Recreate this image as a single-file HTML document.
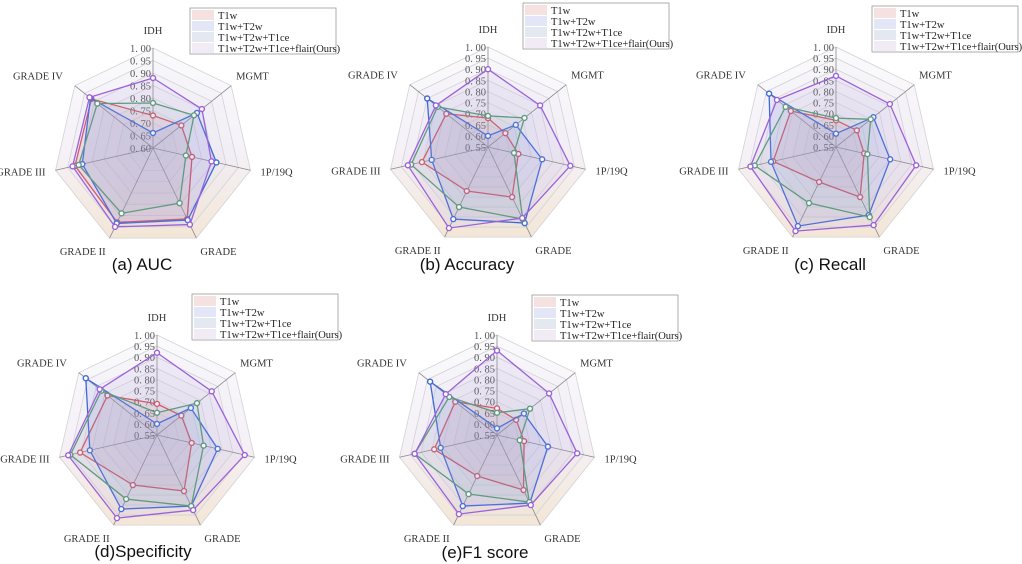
<!DOCTYPE html>
<html><head><meta charset="utf-8"><style>
html,body{margin:0;padding:0;background:#fff;width:1022px;height:564px;overflow:hidden}
svg{display:block}
</style></head><body>
<svg id="root" width="1022" height="564" viewBox="0 0 1022 564"></svg>
<script>
const categories = ["IDH","MGMT","1P/19Q","GRADE","GRADE II","GRADE III","GRADE IV"];
const seriesNames = ["T1w","T1w+T2w","T1w+T2w+T1ce","T1w+T2w+T1ce+flair(Ours)"];
// (a) AUC
const aucT1w   = [0.73,0.745,0.76,0.915,0.93,0.92,0.915];
const aucT2w   = [0.66,0.825,0.86,0.92,0.935,0.89,0.92];
const aucT1ce  = [0.78,0.81,0.735,0.845,0.89,0.905,0.885];
const aucOurs  = [0.88,0.85,0.84,0.94,0.95,0.93,0.925];
const aucTicks = ["0.60","0.65","0.70","0.75","0.80","0.85","0.90","0.95","1.00"];
// (b) Accuracy
const accT1w   = [0.68,0.65,0.69,0.80,0.77,0.855,0.79];
const accT2w   = [0.60,0.71,0.80,0.93,0.91,0.81,0.90];
const accT1ce  = [0.69,0.76,0.67,0.91,0.85,0.905,0.84];
const accOurs  = [0.90,0.85,0.93,0.905,0.955,0.92,0.85];
// (c) Recall
const recT1w   = [0.67,0.67,0.68,0.80,0.725,0.84,0.81];
const recT2w   = [0.61,0.765,0.80,0.89,0.945,0.85,0.935];
const recT1ce  = [0.68,0.75,0.695,0.90,0.83,0.925,0.84];
const recOurs  = [0.87,0.86,0.92,0.94,0.97,0.945,0.89];
// (d) Specificity
const speT1w   = [0.69,0.69,0.71,0.83,0.80,0.905,0.835];
const speT2w   = [0.60,0.745,0.83,0.905,0.92,0.86,0.96];
const speT1ce  = [0.65,0.78,0.765,0.905,0.87,0.95,0.87];
const speOurs  = [0.92,0.865,0.955,0.925,0.965,0.96,0.88];
// (e) F1 score
const f1T1w    = [0.67,0.66,0.675,0.825,0.755,0.84,0.79];
const f1T2w    = [0.58,0.705,0.785,0.89,0.905,0.81,0.935];
const f1T1ce   = [0.65,0.74,0.655,0.885,0.845,0.93,0.825];
const f1Ours   = [0.93,0.85,0.92,0.90,0.945,0.93,0.845];
const ticks55  = ["0.55","0.60","0.65","0.70","0.75","0.80","0.85","0.90","0.95","1.00"];

const NS="http://www.w3.org/2000/svg";
const root=document.getElementById('root');
const lineCols=["#d2545e","#3f69d6","#559a72","#9b62d8"];
const fillCols=["rgba(235,150,160,0.14)","rgba(95,120,225,0.11)","rgba(130,185,175,0.09)","rgba(195,160,235,0.11)"];
const swCols=["#f6e1e1","#e2e6f7","#e4e9f1","#f1ebf6"];
const labelAnchor=["middle","start","start","start","end","end","end"];
const labelDx=[0,5,10,4,-4,-10,-12];
const labelDy=[-14,-6,5,17,17,5,-6];

function mk(tag,attrs,parent){const e=document.createElementNS(NS,tag);for(const k in attrs)e.setAttribute(k,attrs[k]);(parent||root).appendChild(e);return e;}

const defs=mk('defs',{});
const grad=mk('linearGradient',{id:'bgGrad',x1:0,y1:0,x2:0,y2:1},defs);
mk('stop',{offset:'0','stop-color':'#fafafc'},grad);
mk('stop',{offset:'0.55','stop-color':'#f5f1f7'},grad);
mk('stop',{offset:'1','stop-color':'#f3e6d6'},grad);

function drawRadar(id,cx,cy,R,minV,tickLabels,series,legend,title,titlePos){
  const g=mk('g',{});
  
  
  const n=categories.length;
  const ang=i=>-Math.PI/2+i*2*Math.PI/n;
  const rScale=v=>(v-minV)/(1-minV)*R;
  const pt=(i,v)=>[cx+rScale(v)*Math.cos(ang(i)),cy+rScale(v)*Math.sin(ang(i))];
  const poly=v=>categories.map((c,i)=>pt(i,v).join(',')).join(' ');
  const bg=mk('polygon',{points:poly(1),fill:'url(#bgGrad)',stroke:'none'},g);
  
  
  const tv=tickLabels.map(Number);
  for(let k=tv.length-2;k>=1;k--){
    mk('polygon',{points:poly(tv[k]),fill:'rgba(205,198,225,0.05)',stroke:'none'},g);
  }
  tv.forEach(v=>{
    const r=mk('polygon',{points:poly(v),fill:'none',stroke:'#d2d2d8','stroke-width':0.8},g);
    
    
  });
  categories.forEach((c,i)=>{
    const p=pt(i,1);
    const a=mk('line',{x1:cx,y1:cy,x2:p[0],y2:p[1],stroke:'#8a8a8a','stroke-width':0.8},g);
    
    
    const t=mk('text',{x:p[0]+labelDx[i],y:p[1]+labelDy[i],'text-anchor':labelAnchor[i],'font-family':'"Liberation Serif",serif','font-size':10.5,fill:'#333'},g);
    t.textContent=c;
    
    
  });
  tickLabels.forEach((lab,k)=>{
    const v=Number(lab);
    const t=mk('text',{x:cx-2,y:cy-rScale(v)+4,'text-anchor':'end','font-family':'"Liberation Serif",serif','font-size':10.5,fill:'#555'},g);
    t.textContent=lab.replace('.', '. ');
    
    
  });
  series.forEach((vals,s)=>{
    const sg=mk('g',{},g);
    
    
    const pts=vals.map((v,i)=>pt(i,v).join(',')).join(' ');
    const pg=mk('polygon',{points:pts,fill:fillCols[s],stroke:lineCols[s],'stroke-width':1.3},sg);
    
    
    vals.forEach((v,i)=>{
      const p=pt(i,v);
      const c=mk('circle',{cx:p[0],cy:p[1],r:2.5,fill:'#fff',stroke:lineCols[s],'stroke-width':1.4},sg);
      
      
    });
  });
  const lg=mk('g',{},g);
  
  
  mk('rect',{x:legend[0],y:legend[1],width:146,height:46,fill:'#fff',stroke:'#999','stroke-width':0.8},lg);
  seriesNames.forEach((nm,s)=>{
    const sw=mk('rect',{x:legend[0]+2,y:legend[1]+2+s*11,width:22,height:10,fill:swCols[s]},lg);
    
    
    const t=mk('text',{x:legend[0]+28,y:legend[1]+11+s*11,'font-family':'"Liberation Serif",serif','font-size':10.5,fill:'#222'},lg);
    t.textContent=nm;
    
    
  });
  const tt=mk('text',{x:titlePos[0],y:titlePos[1],'text-anchor':'middle','font-family':'"Liberation Sans",sans-serif','font-size':17,fill:'#111'},g);
  tt.textContent=title;
  
  
}

drawRadar('auc',153,148,100,0.60,aucTicks,[aucT1w,aucT2w,aucT1ce,aucOurs],[190,8],'(a) AUC',[142,270]);
drawRadar('accuracy',488,147,100,0.55,ticks55,[accT1w,accT2w,accT1ce,accOurs],[523,3],'(b) Accuracy',[467,270]);
drawRadar('recall',836,147,100,0.55,ticks55,[recT1w,recT2w,recT1ce,recOurs],[872,6],'(c) Recall',[830,270]);
drawRadar('specificity',157,435,100,0.55,ticks55,[speT1w,speT2w,speT1ce,speOurs],[192,294],'(d)Specificity',[143,557]);
drawRadar('f1-score',497,435,100,0.55,ticks55,[f1T1w,f1T2w,f1T1ce,f1Ours],[532,295],'(e)F1 score',[485,558]);
</script>
</body></html>
